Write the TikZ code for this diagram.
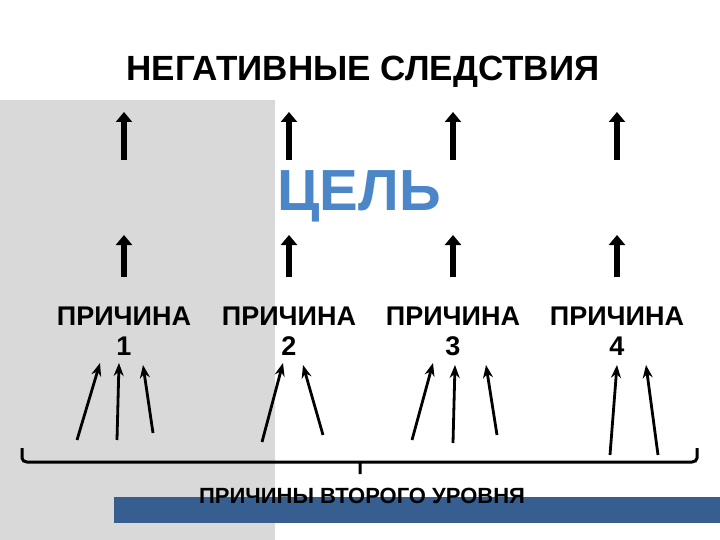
\documentclass[tikz,border=0pt]{standalone}
\usepackage{fontspec}
\setmainfont{Liberation Sans}
\usetikzlibrary{arrows.meta,calc}
\begin{document}
\begin{tikzpicture}[x=1pt,y=-1pt,
 big/.style={line width=5.5pt,-{Triangle[length=10pt,width=16pt]}},
 thin/.style={line width=2.8pt,-{Stealth[length=13pt,width=10pt]}},
 lbl/.style={font=\bfseries\fontsize{27}{30}\selectfont,align=center}]
\useasboundingbox (0,0) rectangle (720,540);
\fill[white] (0,0) rectangle (720,540);
\fill[gray!30] (0,100) rectangle (275,540);
\fill[fill={rgb,255:red,54;green,94;blue,145}] (114,497) rectangle (720,523);
\node[font=\bfseries\fontsize{35}{40}\selectfont] (title) at (363,72) {НЕГАТИВНЫЕ СЛЕДСТВИЯ};
\node[font=\bfseries\fontsize{58}{62}\selectfont,text={rgb,255:red,74;green,134;blue,200}] (goal) at (359,196) {ЦЕЛЬ};
\foreach \i/\x in {1/124,2/289,3/453,4/617}{
 \coordinate (t\i a) at (\x,160); \coordinate (t\i b) at (\x,112);
 \coordinate (m\i a) at (\x,277); \coordinate (m\i b) at (\x,235);
 \draw[big] (t\i a) -- (t\i b);
 \draw[big] (m\i a) -- (m\i b);
 \node[lbl] (c\i) at (\x,331) {ПРИЧИНА\\\i};
}
\foreach \n/\a/\b/\c/\d in {a/77/440/100/363, b/117/440/119/363, c/153/433/143/365,
 d/262/442/283/363, e/323/435/303/365,
 f/412/440/433/363, g/453/443/455/365, h/497/435/486/365,
 i/610/455/617/365, j/658/455/646/365}{
 \coordinate (s\n) at (\a,\b); \coordinate (e\n) at (\c,\d);
 \draw[thin] (s\n) -- (e\n);
}
\coordinate (bl) at (22,448); \coordinate (br) at (697,448); \coordinate (bm) at (360,462);
\draw[line width=3pt] (bl) -- ++(0,10) to[out=-90,in=180] ++(5,4) -- ($(bm)+(-5,0)$) -- ++(5,0) -- ++(0,12) ++(0,-12) -- ($(br)+(-5,14)$) to[out=0,in=-90] ++(5,-4) -- (br);
\node[font=\bfseries\fontsize{22}{26}\selectfont] (lvl) at (362,496) {ПРИЧИНЫ ВТОРОГО УРОВНЯ};
\end{tikzpicture}
\end{document}
